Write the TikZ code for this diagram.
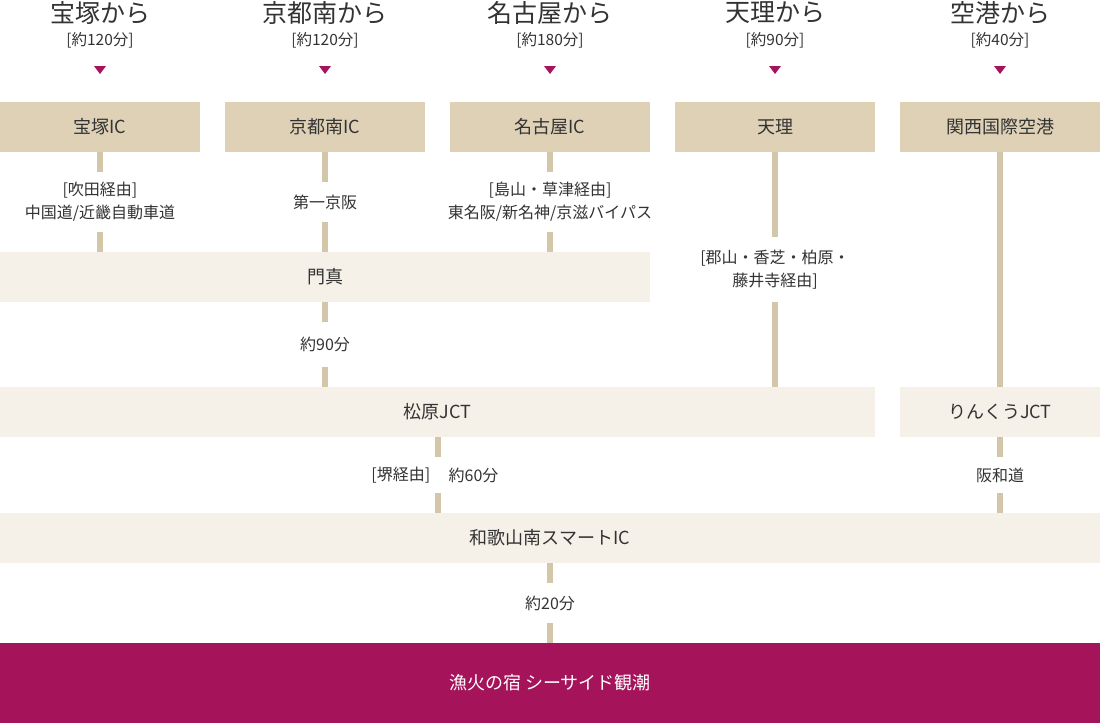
\documentclass[tikz,border=0pt]{standalone}
\usepackage{fontspec}
\setmainfont{Noto Sans CJK JP}
\usetikzlibrary{positioning}
\definecolor{beige}{HTML}{DFD1B6}
\definecolor{pale}{HTML}{F5F0E8}
\definecolor{roadc}{HTML}{D4C7A9}
\definecolor{wine}{HTML}{A5135A}
\definecolor{ink}{HTML}{333333}
\tikzset{
  icbox/.style={fill=beige,minimum width=200pt,minimum height=50pt,inner sep=0pt,text=ink,font=\fontsize{18}{21}\selectfont},
  jctbox/.style={fill=pale,minimum height=50pt,inner sep=0pt,text=ink,font=\fontsize{18}{21}\selectfont},
  roadline/.style={draw=roadc,line width=6pt},
  lbl/.style={fill=white,text=ink,font=\fontsize{16}{23}\selectfont,align=center,inner xsep=0pt,inner ysep=0pt},
  origin/.style={text=ink,font=\fontsize{25}{28}\selectfont,inner sep=0pt},
  mins/.style={text=ink,font=\fontsize{15.5}{18}\selectfont,inner sep=0pt},
  pointer/.style={fill=wine}
}
\begin{document}
\begin{tikzpicture}[x=1pt,y=-1pt]
\useasboundingbox (0,0) rectangle (1100,723);

% where the guests start
\node[origin] (fromtakarazuka) at (100,13) {宝塚から};
\node[mins] at (100,40) {[約120分]};
\node[origin] (fromkyoto) at (325,13) {京都南から};
\node[mins] at (325,40) {[約120分]};
\node[origin] (fromnagoya) at (550,13) {名古屋から};
\node[mins] at (550,40) {[約180分]};
\node[origin] (fromtenri) at (775,13) {天理から};
\node[mins] at (775,40) {[約90分]};
\node[origin] (fromkix) at (1000,13) {空港から};
\node[mins] at (1000,40) {[約40分]};
\fill[pointer] (94,66) -- (106,66) -- (100,74) -- cycle;
\fill[pointer] (319,66) -- (331,66) -- (325,74) -- cycle;
\fill[pointer] (544,66) -- (556,66) -- (550,74) -- cycle;
\fill[pointer] (769,66) -- (781,66) -- (775,74) -- cycle;
\fill[pointer] (994,66) -- (1006,66) -- (1000,74) -- cycle;

% interchanges
\node[icbox] (takarazuka) at (100,127) {宝塚IC};
\node[icbox] (kyoto) at (325,127) {京都南IC};
\node[icbox] (nagoya) at (550,127) {名古屋IC};
\node[icbox] (tenri) at (775,127) {天理};
\node[icbox] (kix) at (1000,127) {関西国際空港};

\node[jctbox,minimum width=650pt] (kadoma) at (325,277) {門真};
\node[jctbox,minimum width=875pt] (matsubara) at (437.5,412) {松原JCT};
\node[jctbox,minimum width=200pt] (rinku) at (1000,412) {りんくうJCT};
\node[jctbox,minimum width=1100pt] (wakayama) at (550,538) {和歌山南スマートIC};
\node[fill=wine,text=white,minimum width=1100pt,minimum height=80pt,inner sep=0pt,font=\fontsize{18}{21}\selectfont] (ryokan) at (550,683) {漁火の宿 シーサイド観潮};

% roads
\draw[roadline] (takarazuka) -- (takarazuka |- kadoma.north) node[midway,lbl,minimum height=60pt] {[吹田経由]\\中国道/近畿自動車道};
\draw[roadline] (kyoto) -- (kyoto |- kadoma.north) node[midway,lbl,minimum height=40pt] {第一京阪};
\draw[roadline] (nagoya) -- (nagoya |- kadoma.north) node[midway,lbl,minimum height=60pt] {[島山・草津経由]\\東名阪/新名神/京滋バイパス};
\draw[roadline] (tenri) -- (tenri |- matsubara.north) node[midway,lbl,minimum height=65pt] {[郡山・香芝・柏原・\\藤井寺経由]};
\draw[roadline] (kix) -- (rinku);
\draw[roadline] (kadoma) -- (kadoma |- matsubara.north) node[midway,lbl,minimum height=45pt] {約90分};
\draw[roadline] (matsubara) -- (matsubara |- wakayama.north) node[midway,fill=white,minimum width=8pt,minimum height=36pt,inner sep=0pt] (sakai) {};
\node[lbl,left=0pt of sakai] {[堺経由]};
\node[lbl,right=4pt of sakai] {約60分};
\draw[roadline] (rinku) -- (rinku |- wakayama.north) node[midway,lbl,minimum height=36pt] {阪和道};
\draw[roadline] (wakayama) -- (ryokan) node[midway,lbl,minimum height=40pt] {約20分};

\end{tikzpicture}
\end{document}
